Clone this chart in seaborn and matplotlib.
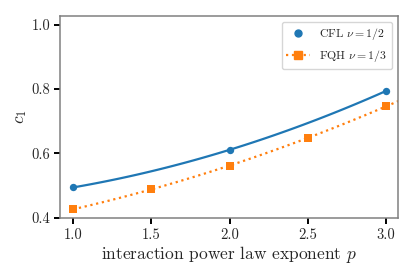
import numpy as np
import matplotlib
matplotlib.use("Agg")
import matplotlib.pyplot as plt
from matplotlib.lines import Line2D
import seaborn as sns

# data
p_cfl = [1.0, 2.0, 3.0]
c1_cfl = [0.494, 0.611, 0.794]
p_fqh = [1.0, 1.5, 2.0, 2.5, 3.0]
c1_fqh = [0.426, 0.488, 0.562, 0.648, 0.746]

x_ticks = [1.0, 1.5, 2.0, 2.5, 3.0]
y_ticks = [0.4, 0.6, 0.8, 1.0]

sns.set_style("ticks")
plt.rcParams['font.family'] = 'serif'
plt.rcParams['font.serif'] = ['cmr10', 'DejaVu Serif']
plt.rcParams['mathtext.fontset'] = 'cm'
plt.rcParams['axes.formatter.use_mathtext'] = True
plt.rcParams['axes.unicode_minus'] = False

blue = '#1f77b4'
orange = '#ff7f0e'
xlim = (0.917, 3.077)
ylim = (0.398, 1.028)

fig = plt.figure(figsize=(4.15, 2.77), dpi=100)
ax = fig.add_axes([0.145, 0.212, 0.814, 0.731])

# fitted curves + points
sns.regplot(x=p_cfl, y=c1_cfl, order=2, ci=None, ax=ax, truncate=True,
            scatter_kws={'s': 28, 'color': blue, 'zorder': 3, 'linewidths': 0, 'alpha': 1},
            line_kws={'color': blue, 'lw': 1.6})
# the FQH fit starts at p=1 and runs off the right edge
ax.set_xlim(min(p_fqh), 3.2)
sns.regplot(x=p_fqh, y=c1_fqh, order=2, ci=None, ax=ax, truncate=False, marker='s',
            scatter_kws={'s': 30, 'color': orange, 'zorder': 3, 'linewidths': 0, 'alpha': 1},
            line_kws={'color': orange, 'lw': 1.6, 'ls': ':'})

ax.set_xlim(*xlim)
ax.set_ylim(*ylim)
ax.set_xticks(x_ticks)
ax.set_yticks(y_ticks)
ax.set_xticklabels([f'{v:.1f}' for v in x_ticks])
ax.set_yticklabels([f'{v:.1f}' for v in y_ticks])
ax.tick_params(axis='both', labelsize=10.5, length=4, width=1.4, color='black', pad=3)
for s in ax.spines.values():
    s.set_color('#808080')
    s.set_linewidth(1.1)

ax.set_xlabel('interaction power law exponent $p$', fontsize=12.5, labelpad=2)
ax.set_ylabel('$c_1$', fontsize=12.5, labelpad=2)

handles = [Line2D([], [], color=blue, marker='o', ls='none', ms=5),
           Line2D([], [], color=orange, marker='s', ls=':', lw=1.6, ms=5.5)]
ax.legend(handles, [r'CFL $\nu=1/2$', r'FQH $\nu=1/3$'], loc='upper right',
          fontsize=8.5, frameon=True, framealpha=0.8, edgecolor='#cccccc', fancybox=True)

fig.savefig('out.png', dpi=100)
